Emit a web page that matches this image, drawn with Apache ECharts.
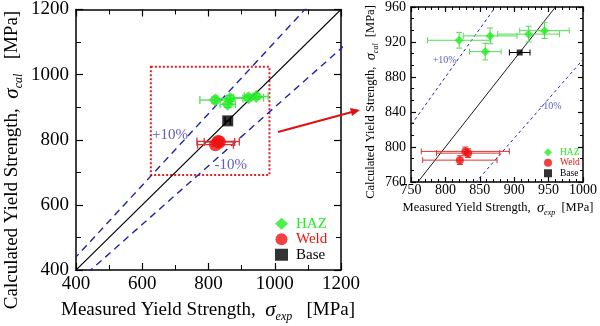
<!DOCTYPE html>
<html>
<head>
<meta charset="utf-8">
<script src="https://cdn.jsdelivr.net/npm/echarts@6/dist/echarts.min.js"></script>
<style>
  html, body { margin: 0; padding: 0; background: #fff; }
  #chart { width: 600px; height: 326px; }
</style>
</head>
<body>
<div id="chart"></div>
<script>
// ---- data (MPa) ----
const hazX = [820, 865, 858, 921, 944];
const hazY = [922, 927, 909, 929, 933];
const hazXErr = [46, 39, 23, 45, 36];
const hazYErr = [9, 9, 9.5, 9, 9];

const weldX = [829, 833, 821];
const weldY = [795, 793, 785];
const weldXErr = [64, 46, 54];
const weldYErr = [5, 5, 5];

// base metal as plotted in the overview panel
const baseOverviewX = [858];
const baseOverviewY = [858];
const baseOverviewXErr = [8];
const baseOverviewYErr = [0];

// base metal as plotted in the enlarged panel
const baseX = [908];
const baseY = [908];
const baseXErr = [15];
const baseYErr = [0];

// axis ticks
const mainTicks = [400, 600, 800, 1000, 1200];
const zoomXTicks = [750, 800, 850, 900, 950, 1000];
const zoomYTicks = [760, 800, 840, 880, 920, 960];

// guide lines: sigma_cal = ratio * sigma_exp
const guideRatios = [1.0, 1.1, 0.9];
const guideSpan = [0, 1500];

// guide annotations [text, x, y]
const guideLabelsMain = [['+10%', 684, 814], ['-10%', 867, 721]];
const guideLabelsZoom = [['+10%', 799, 899], ['-10%', 953, 846]];

// region enlarged in the right panel
const zoomBox = [[626, 1024], [984, 692]];

const FONT = "'Liberation Serif', 'Times New Roman', serif";
const GREEN = '#22ee22', GREEN_BAR = '#55dd55';
const RED = '#ee1111', RED_BAR = '#dd3333';
const BLUE = '#2222aa';

function errData(xs, ys, xe, ye) {
  return xs.map((x, i) => [x, ys[i], xe[i], ye[i]]);
}
function pts(xs, ys) { return xs.map((x, i) => [x, ys[i]]); }

function errRender(cap, color, width) {
  return function (params, api) {
    const x = api.value(0), y = api.value(1), dx = api.value(2), dy = api.value(3);
    const style = { stroke: color, lineWidth: width, fill: null };
    const ch = [];
    if (dx > 0) {
      const l = api.coord([x - dx, y]), r = api.coord([x + dx, y]);
      ch.push({ type: 'line', shape: { x1: l[0], y1: l[1], x2: r[0], y2: r[1] }, style });
      ch.push({ type: 'line', shape: { x1: l[0], y1: l[1] - cap, x2: l[0], y2: l[1] + cap }, style });
      ch.push({ type: 'line', shape: { x1: r[0], y1: r[1] - cap, x2: r[0], y2: r[1] + cap }, style });
    }
    if (dy > 0) {
      const b = api.coord([x, y - dy]), t = api.coord([x, y + dy]);
      ch.push({ type: 'line', shape: { x1: b[0], y1: b[1], x2: t[0], y2: t[1] }, style });
      ch.push({ type: 'line', shape: { x1: b[0] - cap, y1: b[1], x2: b[0] + cap, y2: b[1] }, style });
      ch.push({ type: 'line', shape: { x1: t[0] - cap, y1: t[1], x2: t[0] + cap, y2: t[1] }, style });
    }
    return { type: 'group', children: ch };
  };
}

function errSeries(name, idx, data, cap, color, width) {
  return {
    type: 'custom', name: name, xAxisIndex: idx, yAxisIndex: idx,
    renderItem: errRender(cap, color, width),
    encode: { x: 0, y: 1 }, data: data, z: 3, silent: true
  };
}

function guideSeries(idx, ratio, big) {
  const dashed = ratio !== 1;
  return {
    type: 'line', xAxisIndex: idx, yAxisIndex: idx, symbol: 'none', silent: true,
    clip: true, z: 1,
    data: guideSpan.map(x => [x, x * ratio]),
    lineStyle: dashed
      ? { color: BLUE, width: big ? 1.4 : 1, type: big ? [7, 5] : [3, 3] }
      : { color: '#000', width: big ? 1.2 : 0.9 }
  };
}

function labelSeries(idx, labels, size) {
  return {
    type: 'scatter', xAxisIndex: idx, yAxisIndex: idx, symbolSize: 1, silent: true,
    itemStyle: { color: 'transparent' }, z: 2,
    data: labels.map(l => ({ value: [l[1], l[2]], name: l[0] })),
    label: { show: true, position: 'inside', formatter: p => p.name,
             color: '#3333aa', fontFamily: FONT, fontSize: size }
  };
}

function axis(grid, pos, ticks, showLabel, fs, split, len, mlen, margin) {
  return {
    type: 'value', gridIndex: grid, position: pos,
    min: ticks[0], max: ticks[ticks.length - 1], interval: ticks[1] - ticks[0],
    axisLine: { show: true, onZero: false, lineStyle: { color: '#000', width: 1.5 } },
    axisTick: { show: true, inside: true, length: len, lineStyle: { color: '#000', width: 1.2 } },
    minorTick: { show: true, splitNumber: split, length: mlen, lineStyle: { color: '#000', width: 1 } },
    splitLine: { show: false },
    axisLabel: { show: showLabel, color: '#000', fontFamily: FONT, fontSize: fs, margin: margin,
                 showMinLabel: true, showMaxLabel: true, formatter: v => String(v) }
  };
}

const sigmaRich = (fs, sfs) => ({
  s: { fontFamily: FONT, fontStyle: 'italic', fontSize: fs + 2, lineHeight: fs + 6 },
  sub: { fontFamily: FONT, fontStyle: 'italic', fontSize: sfs, verticalAlign: 'bottom', lineHeight: fs + 6 },
  n: { fontFamily: FONT, fontSize: fs, lineHeight: fs + 6 }
});

const chart = echarts.init(document.getElementById('chart'), null, { renderer: 'canvas' });

const option = {
  animation: false,
  backgroundColor: '#fff',
  grid: [
    { left: 76, top: 4, width: 265, height: 266 },
    { left: 411, top: 6, width: 176, height: 176 }
  ],
  xAxis: [
    axis(0, 'bottom', mainTicks, true, 19, 2, 7, 5, 5),
    axis(0, 'top', mainTicks, false, 19, 2, 7, 5, 5),
    axis(1, 'bottom', zoomXTicks, true, 14, 5, 5, 3, 1),
    axis(1, 'top', zoomXTicks, false, 14, 5, 5, 3, 1)
  ],
  yAxis: [
    axis(0, 'left', mainTicks, true, 19, 2, 7, 5, 7),
    axis(0, 'right', mainTicks, false, 19, 2, 7, 5, 7),
    axis(1, 'left', zoomYTicks, true, 14, 3, 5, 3, 5),
    axis(1, 'right', zoomYTicks, false, 14, 3, 5, 3, 5)
  ],
  legend: [
    {
      orient: 'vertical', left: 270, top: 211, itemWidth: 13, itemHeight: 12, itemGap: 0,
      selectedMode: false,
      textStyle: { fontFamily: FONT, fontSize: 15, lineHeight: 15.5, padding: [0, 0, 0, 3] },
      data: [
        { name: 'HAZ', icon: 'diamond', textStyle: { color: GREEN } },
        { name: 'Weld', icon: 'circle', textStyle: { color: RED } },
        { name: 'Base', icon: 'rect', textStyle: { color: '#000' } }
      ]
    },
    {
      orient: 'vertical', left: 539, top: 142, itemWidth: 8, itemHeight: 8, itemGap: 0,
      selectedMode: false,
      textStyle: { fontFamily: FONT, fontSize: 9.5, lineHeight: 10.5, padding: [0, 0, 0, 3] },
      data: [
        { name: 'HAZ', icon: 'diamond', textStyle: { color: GREEN } },
        { name: 'Weld', icon: 'circle', textStyle: { color: RED } },
        { name: 'Base', icon: 'rect', textStyle: { color: '#000' } }
      ]
    }
  ],
  series: [
    // ----- overview panel -----
    guideSeries(0, guideRatios[0], true),
    guideSeries(0, guideRatios[1], true),
    guideSeries(0, guideRatios[2], true),
    labelSeries(0, guideLabelsMain, 15),
    {
      type: 'scatter', name: 'box', xAxisIndex: 0, yAxisIndex: 0, data: [], silent: true,
      markArea: {
        silent: true,
        itemStyle: { color: 'transparent', borderColor: '#dd2222', borderWidth: 2, borderType: [2, 2] },
        data: [[{ coord: zoomBox[0] }, { coord: zoomBox[1] }]]
      }
    },
    errSeries('hazErr0', 0, errData(hazX, hazY, hazXErr, hazYErr), 4, GREEN_BAR, 1.3),
    errSeries('weldErr0', 0, errData(weldX, weldY, weldXErr, weldYErr), 4, RED_BAR, 1.3),
    errSeries('baseErr0', 0, errData(baseOverviewX, baseOverviewY, baseOverviewXErr, baseOverviewYErr), 4, '#000', 1.3),
    { type: 'scatter', name: 'HAZ', xAxisIndex: 0, yAxisIndex: 0, symbol: 'diamond', symbolSize: 13,
      itemStyle: { color: GREEN }, data: pts(hazX, hazY), z: 4 },
    { type: 'scatter', name: 'Weld', xAxisIndex: 0, yAxisIndex: 0, symbol: 'circle', symbolSize: 13,
      itemStyle: { color: RED }, data: pts(weldX, weldY), z: 4 },
    { type: 'scatter', name: 'Base', xAxisIndex: 0, yAxisIndex: 0, symbol: 'rect', symbolSize: 11,
      itemStyle: { color: '#000' }, data: pts(baseOverviewX, baseOverviewY), z: 4 },

    // ----- enlarged panel -----
    guideSeries(2, guideRatios[0], false),
    guideSeries(2, guideRatios[1], false),
    guideSeries(2, guideRatios[2], false),
    labelSeries(2, guideLabelsZoom, 10),
    errSeries('hazErr1', 2, errData(hazX, hazY, hazXErr, hazYErr), 3, GREEN_BAR, 1),
    errSeries('weldErr1', 2, errData(weldX, weldY, weldXErr, weldYErr), 3, RED_BAR, 1),
    errSeries('baseErr1', 2, errData(baseX, baseY, baseXErr, baseYErr), 3, '#000', 1),
    { type: 'scatter', name: 'HAZ', xAxisIndex: 2, yAxisIndex: 2, symbol: 'diamond', symbolSize: 9,
      itemStyle: { color: GREEN }, data: pts(hazX, hazY), z: 4 },
    { type: 'scatter', name: 'Weld', xAxisIndex: 2, yAxisIndex: 2, symbol: 'circle', symbolSize: 8,
      itemStyle: { color: RED }, data: pts(weldX, weldY), z: 4 },
    { type: 'scatter', name: 'Base', xAxisIndex: 2, yAxisIndex: 2, symbol: 'rect', symbolSize: 6,
      itemStyle: { color: '#000' }, data: pts(baseX, baseY), z: 4 }
  ],
  graphic: [
    // axis titles
    { type: 'text', x: 208, y: 310, z: 10,
      style: { text: '{n|Measured Yield Strength,}  {s|σ}{sub|exp}   {n|[MPa]}',
               rich: sigmaRich(19, 12), fill: '#000', align: 'center', verticalAlign: 'middle',
               fontFamily: FONT, fontSize: 19 } },
    { type: 'text', x: 12, y: 160, rotation: Math.PI / 2, z: 10,
      style: { text: '{n|Calculated Yield Strength,}  {s|σ}{sub|cal}   {n|[MPa]}',
               rich: sigmaRich(19, 12), fill: '#000', align: 'center', verticalAlign: 'middle',
               fontFamily: FONT, fontSize: 19 } },
    { type: 'text', x: 498, y: 208, z: 10,
      style: { text: '{n|Measured Yield Strength,}  {s|σ}{sub|exp}  {n|[MPa]}',
               rich: sigmaRich(12.5, 8), fill: '#000', align: 'center', verticalAlign: 'middle',
               fontFamily: FONT, fontSize: 12.5 } },
    { type: 'text', x: 371, y: 102, rotation: Math.PI / 2, z: 10,
      style: { text: '{n|Calculated Yield Strength,}  {s|σ}{sub|cal}  {n|[MPa]}',
               rich: sigmaRich(12.5, 8), fill: '#000', align: 'center', verticalAlign: 'middle',
               fontFamily: FONT, fontSize: 12.5 } },
    // pointer from the boxed region to the enlarged panel
    { type: 'line', z: 10, shape: { x1: 278, y1: 132, x2: 352, y2: 112 },
      style: { stroke: '#dd1111', lineWidth: 2 } },
    { type: 'polygon', z: 10, shape: { points: [[360, 110], [350, 108], [352, 116]] },
      style: { fill: '#dd1111' } }
  ]
};

chart.setOption(option);
</script>
</body>
</html>
